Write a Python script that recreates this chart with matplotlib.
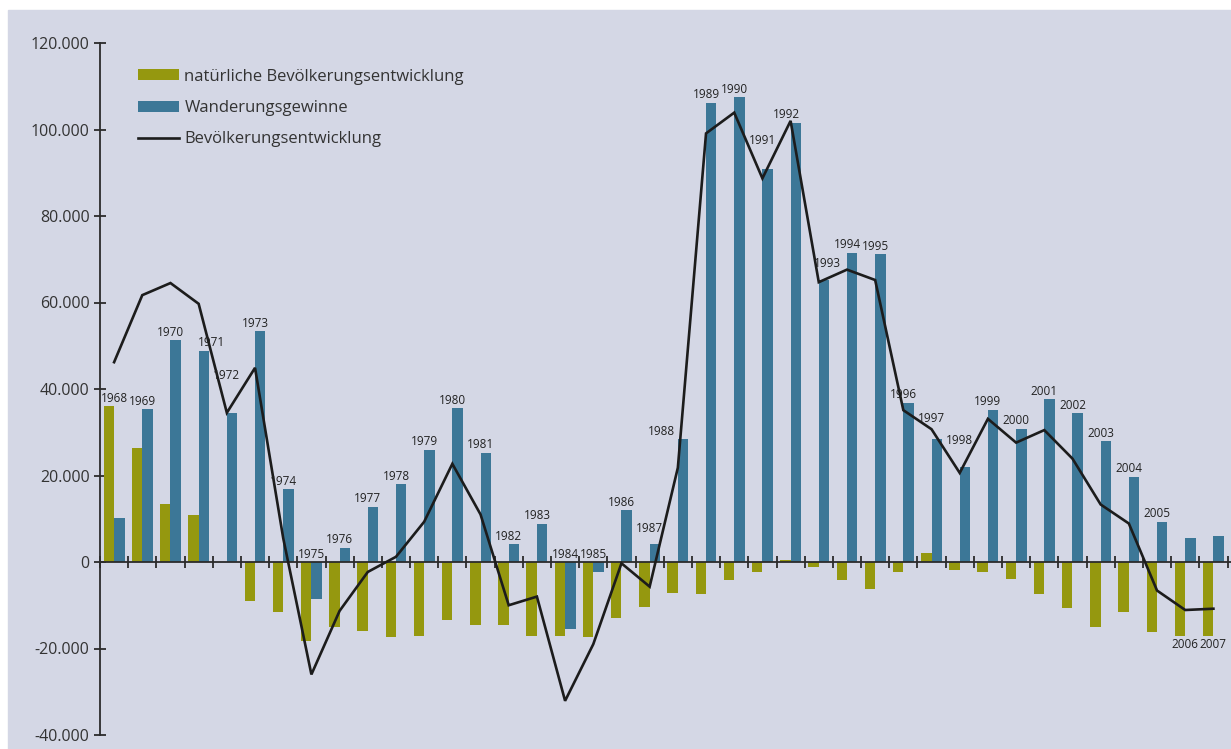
import matplotlib as mpl
import matplotlib.pyplot as plt
import numpy as np
from matplotlib.patches import Rectangle
from matplotlib.ticker import FuncFormatter, MultipleLocator

YEARS = list(range(1968, 2008))

# natürliche Bevölkerungsentwicklung (Geburten minus Sterbefälle)
NATURAL = [
    36000, 26400, 13400, 10900, 0, -9000, -11500, -18300, -15000, -15900,
    -17300, -17100, -13400, -14600, -14600, -17100, -17100, -17300, -13000, -10300,
    -7100, -7500, -4200, -2300, 500, -1100, -4200, -6300, -2300, 2000,
    -1900, -2300, -3900, -7500, -10600, -15000, -11500, -16300, -17000, -17000,
]

# Wanderungsgewinne (Zuzüge minus Fortzüge)
MIGRATION = [
    10200, 35400, 51300, 48900, 34500, 53300, 16800, -8600, 3300, 12800,
    18000, 26000, 35500, 25300, 4100, 8900, -15400, -2200, 12000, 4100,
    28400, 106200, 107400, 90800, 101600, 65200, 71500, 71100, 36800, 28400,
    22000, 35200, 30800, 37600, 34400, 28000, 19700, 9300, 5600, 6000,
]

# Bevölkerungsentwicklung insgesamt
TOTAL = [
    46200, 61700, 64500, 59700, 34500, 44900, 5500, -26000, -11300, -2300,
    1200, 9300, 22700, 11000, -10000, -8000, -32100, -19000, -300, -5700,
    21800, 99100, 103900, 88700, 102000, 64700, 67600, 65200, 35100, 30700,
    20600, 33100, 27600, 30500, 23900, 13300, 8900, -6600, -11100, -10800,
]

COLORS = {
    "natural": "#95980f",
    "migration": "#3c7797",
    "total": "#1c1c1c",
    "background": "#d4d7e5",
    "axis": "#2b2b2b",
}

# hand nudges for crowded year labels, in points (dx, dy)
LABEL_NUDGE = {
    1971: (9, 0),
    1972: (0, 21),
    1987: (0, 6),
    1988: (-12, 0),
    1991: (0, 15),
    1992: (-3, 0),
    1993: (6, 6),
    1997: (0, 9),
    1998: (0, 13),
}
BELOW_LABELS = {2006, 2007}

W, H = 1231, 749


def configure_style() -> None:
    mpl.rcParams.update(
        {
            "font.family": ["Open Sans", "DejaVu Sans"],
            "font.size": 12,
            "axes.linewidth": 1.3,
        }
    )


def main() -> None:
    configure_style()
    fig = plt.figure(figsize=(W / 100, H / 100), dpi=100, facecolor="white")
    fig.patches.append(
        Rectangle((8 / W, 0), 1, (H - 10) / H, transform=fig.transFigure,
                  color=COLORS["background"], zorder=-10)
    )
    ax = fig.add_axes([100 / W, 14 / H, (W - 100) / W, (735 - 43) / H])
    ax.set_facecolor("none")

    x = np.arange(len(YEARS))
    width = 0.37
    ax.bar(x - width / 2, NATURAL, width, color=COLORS["natural"],
           label="natürliche Bevölkerungsentwicklung", zorder=2)
    ax.bar(x + width / 2, MIGRATION, width, color=COLORS["migration"],
           label="Wanderungsgewinne", zorder=2)
    ax.plot(x, TOTAL, color=COLORS["total"], lw=1.9, solid_joinstyle="miter",
            label="Bevölkerungsentwicklung", zorder=4)

    for i, year in enumerate(YEARS):
        dx, dy = LABEL_NUDGE.get(year, (0, 0))
        if year in BELOW_LABELS:
            y = min(NATURAL[i], MIGRATION[i])
            offset, va = (dx, -2 + dy), "top"
        else:
            y = max(NATURAL[i], MIGRATION[i], 0)
            offset, va = (dx, 1 + dy), "bottom"
        ax.annotate(str(year), (i, y), xytext=offset, textcoords="offset points",
                    ha="center", va=va, fontsize=8.5, color="#222222", zorder=5)

    ax.set_xlim(-0.5, -0.5 + (W - 99.5) / 28.2)
    ax.set_ylim(-40000, 120000)

    for side in ("top", "right"):
        ax.spines[side].set_visible(False)
    ax.spines["left"].set_color(COLORS["axis"])
    ax.spines["bottom"].set_position(("data", 0))
    ax.spines["bottom"].set_color(COLORS["axis"])
    ax.spines["bottom"].set_zorder(3)

    ax.set_xticks(np.arange(len(YEARS) + 1) - 0.5)
    ax.set_xticklabels([])
    ax.tick_params(axis="x", direction="inout", length=9, width=1.3,
                   color=COLORS["axis"])

    ax.yaxis.set_major_locator(MultipleLocator(20000))
    ax.yaxis.set_major_formatter(
        FuncFormatter(lambda v, _: f"{v:,.0f}".replace(",", "."))
    )
    ax.tick_params(axis="y", direction="inout", length=9, width=1.3,
                   color=COLORS["axis"], labelcolor="#333333", labelsize=11.5, pad=3)

    handles, labels = ax.get_legend_handles_labels()
    order = [1, 2, 0]
    ax.legend(
        [handles[k] for k in order], [labels[k] for k in order],
        loc="upper left", bbox_to_anchor=(131 / W, 1 - 62 / H),
        bbox_transform=fig.transFigure, frameon=False, fontsize=12,
        handlelength=2.5, handleheight=0.65, handletextpad=0.3,
        labelspacing=0.92, borderaxespad=0, labelcolor="#333333",
    )

    fig.savefig("out.png", dpi=100, facecolor="white")
    plt.close(fig)


if __name__ == "__main__":
    main()
